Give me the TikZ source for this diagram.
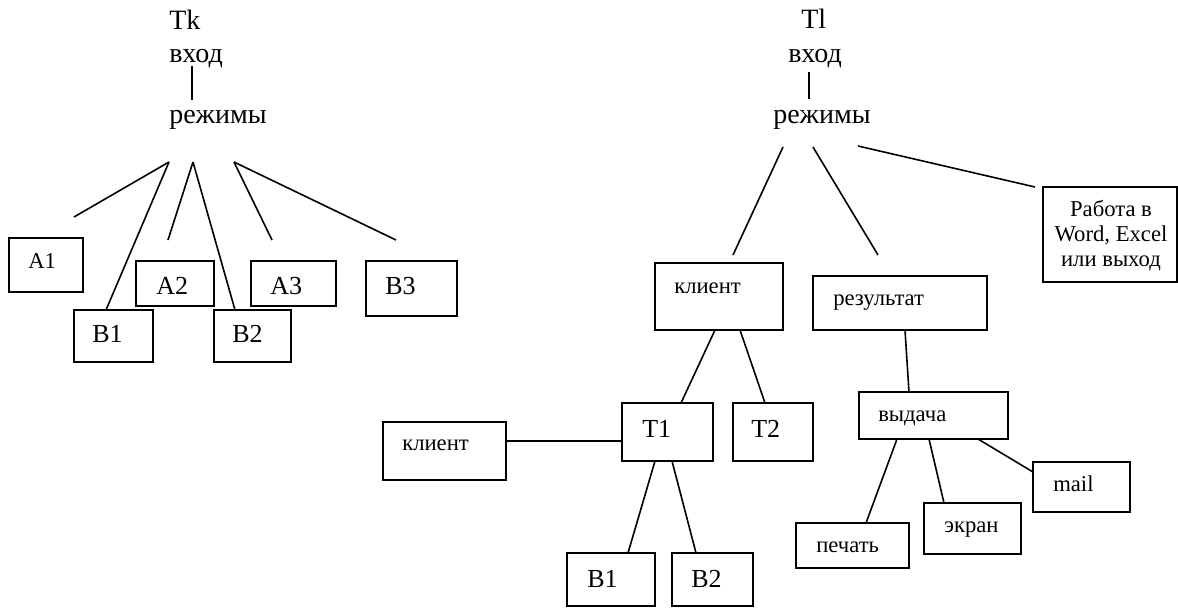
\documentclass[tikz,border=0pt]{standalone}
\usepackage{fontspec}
\setmainfont{Liberation Serif}
\usetikzlibrary{calc}
\newcommand\mybox[5]{\node[boxnode, minimum width={(#4-#2)*0.75pt}, minimum height={(#5-#3)*0.75pt}] (#1) at ({(#2+#4)/2},{(#3+#5)/2}) {};}
\tikzset{
  boxnode/.style={draw, line width=1.3pt, inner sep=0pt, outer sep=0pt},
  lbl/.style={anchor=base west, inner sep=0pt, font=\fontsize{17}{20}\selectfont},
  latlbl/.style={anchor=base west, inner sep=0pt, font=\fontsize{19.5}{23}\selectfont},
  toplbl/.style={anchor=base west, inner sep=0pt, font=\fontsize{21}{25}\selectfont},
  conn/.style={line width=1.2pt},
}
\begin{document}
\begin{tikzpicture}[x=0.75pt, y=-0.75pt]
\useasboundingbox (0,0) rectangle (1178,607);
% ---------- left tree ----------
\node[toplbl] (tk) at (169,29) {Tk};
\node[toplbl] (vhodL) at (169,62) {вход};
\node[toplbl] (rezL) at (169,123) {режимы};
\coordinate (vL1) at (192,66);
\coordinate (vL2) at (192,100);
\draw[conn] (vL1) -- (vL2);

\mybox{a1}{9}{238}{83}{292}
\mybox{b1}{74}{310}{153}{362}
\mybox{a2}{136}{261}{214}{306}
\mybox{b2}{214}{310}{291}{362}
\mybox{a3}{251}{261}{336}{306}
\mybox{b3}{366}{261}{457}{316}
\node[lbl] (a1t) at (28,268) {A1};
\node[latlbl] (b1t) at (92,342) {B1};
\node[latlbl] (a2t) at (156,294) {A2};
\node[latlbl] (b2t) at (232,342) {B2};
\node[latlbl] (a3t) at (270,294) {A3};
\node[latlbl] (b3t) at (385,294) {B3};

\coordinate (pL1) at (169,162);
\coordinate (pL2) at (193,162);
\coordinate (pL3) at (234,162);
\coordinate (eA1) at (74,217);
\coordinate (eA2) at (168,240);
\coordinate (eA3) at (272,240);
\coordinate (eB3) at (396,240);
\draw[conn] (pL1) -- (eA1);
\draw[conn] (pL1) -- ($(b1.north west)+(32,0)$);
\draw[conn] (pL2) -- (eA2);
\draw[conn] (pL2) -- ($(b2.north west)+(21,0)$);
\draw[conn] (pL3) -- (eA3);
\draw[conn] (pL3) -- (eB3);

% ---------- right tree ----------
\node[toplbl] (tl) at (801,28) {Tl};
\node[toplbl] (vhodR) at (788,62) {вход};
\node[toplbl] (rezR) at (773,123) {режимы};
\coordinate (vR1) at (809,72);
\coordinate (vR2) at (809,99);
\draw[conn] (vR1) -- (vR2);

\mybox{kl1}{655}{263}{783}{330}
\mybox{t1}{622}{403}{713}{461}
\mybox{t2}{733}{403}{813}{461}
\mybox{kl2}{383}{422}{506}{480}
\mybox{bb1}{567}{553}{655}{606}
\mybox{bb2}{672}{553}{753}{606}
\mybox{res}{813}{276}{987}{330}
\mybox{vyd}{859}{392}{1008}{439}
\mybox{mail}{1033}{462}{1130}{512}
\mybox{ekr}{924}{503}{1021}{554}
\mybox{pech}{796}{523}{909}{568}
\mybox{rab}{1043}{187}{1177}{282}

\node[lbl] (kl1t) at (674,293) {клиент};
\node[latlbl] (t1t) at (642,437) {T1};
\node[latlbl] (t2t) at (751,437) {T2};
\node[lbl] (kl2t) at (402,450) {клиент};
\node[latlbl] (bb1t) at (587,587) {B1};
\node[latlbl] (bb2t) at (691,587) {B2};
\node[lbl] (rest) at (833,305) {результат};
\node[lbl] (vydt) at (878,421) {выдача};
\node[lbl] (mailt) at (1053,491) {mail};
\node[lbl] (ekrt) at (944,532) {экран};
\node[lbl] (pecht) at (816,552) {печать};
\node[anchor=base, inner sep=0pt, font=\fontsize{17}{20}\selectfont] (rab1) at (1111,216) {Работа в};
\node[anchor=base, inner sep=0pt, font=\fontsize{17}{20}\selectfont] (rab2) at (1111,241) {Word, Excel};
\node[anchor=base, inner sep=0pt, font=\fontsize{17}{20}\selectfont] (rab3) at (1111,266) {или выход};

\coordinate (pR1) at (783,147);
\coordinate (pR2) at (813,147);
\coordinate (pR3) at (858,146);
\coordinate (eKl) at (733,255);
\coordinate (eRes) at (878,255);
\coordinate (eRab) at (1035,187);
\draw[conn] (pR1) -- (eKl);
\draw[conn] (pR2) -- (eRes);
\draw[conn] (pR3) -- (eRab);

\draw[conn] ($(kl1.south west)+(60,0)$) -- ($(t1.north west)+(59,0)$);
\draw[conn] ($(kl1.south west)+(85,0)$) -- ($(t2.north west)+(32,0)$);
\draw[conn] (kl2.east |- 0,441) -- (t1.west |- 0,441);
\draw[conn] ($(t1.south west)+(33,0)$) -- ($(bb1.north west)+(61,0)$);
\draw[conn] ($(t1.south west)+(50,0)$) -- ($(bb2.north west)+(24,0)$);
\draw[conn] ($(res.south west)+(92,0)$) -- ($(vyd.north west)+(50,0)$);
\draw[conn] ($(vyd.south west)+(38,0)$) -- ($(pech.north west)+(70,0)$);
\draw[conn] ($(vyd.south west)+(70,0)$) -- ($(ekr.north west)+(20,0)$);
\draw[conn] ($(vyd.south west)+(119,0)$) -- ($(mail.north west)+(0,10)$);
\end{tikzpicture}
\end{document}
